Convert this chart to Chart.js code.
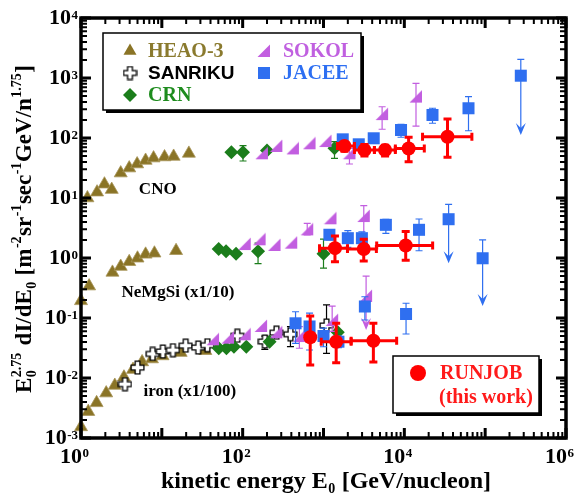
<!DOCTYPE html>
<html>
<head>
<meta charset="utf-8">
<script src="https://cdn.jsdelivr.net/npm/chart.js@4.4.1/dist/chart.umd.min.js"></script>
<style>
  html, body { margin: 0; padding: 0; background: #fff; }
</style>
</head>
<body>
<canvas id="chart" width="579" height="500"></canvas>
<script>
// ---- data (E in GeV/nucleon, flux = E^2.75 dI/dE) ----
// labelled decades on the axes
const xLabelExps = [0, 2, 4, 6];
const yLabelExps = [-3, -2, -1, 0, 1, 2, 3, 4];

// HEAO-3  [E, flux]
const heaoCNO = [[1.2, 10.0], [1.58, 12.5], [1.95, 17.0], [2.4, 13.8], [3.1, 26.0], [3.95, 31.5],
  [4.95, 36.8], [6.3, 42.2], [7.9, 46.2], [10.8, 48.2], [14.0, 49.2], [21.6, 55.3]];
const heaoNeMgSi = [[1.0, 0.193], [1.26, 0.34], [2.45, 0.575], [3.1, 0.72], [3.95, 0.865],
  [5.0, 0.99], [6.3, 1.15], [8.1, 1.2], [15.0, 1.32]];
const heaoIron = [[1.0, 0.00153], [1.23, 0.00275], [1.56, 0.00385], [2.05, 0.0056], [2.62, 0.0075],
  [3.4, 0.0103], [4.4, 0.0138], [5.7, 0.0185], [7.55, 0.0207], [10.2, 0.0233], [17.1, 0.0265], [34.5, 0.0285]];

// SANRIKU  [E, flux, low, high]
const sanrikuIron = [[3.5, 0.0079], [5.0, 0.0149], [7.7, 0.0252], [10.3, 0.0277], [13.7, 0.0291],
  [19.7, 0.0346], [28.2, 0.0322], [36.6, 0.0352], [86, 0.0505], [188, 0.0405, 0.03, 0.05],
  [262, 0.057], [390, 0.0535, 0.0333, 0.0716], [1090, 0.075, 0.0258, 0.165]];

// CRN  [E, flux, low, high]
const crnCNO = [[72.5, 57.8], [101, 57.8, 41.4, 74.5], [200, 62], [1368, 67.3, 45.9, 86.7]];
const crnNeMgSi = [[50.5, 1.41], [62.3, 1.29], [82.8, 1.18], [155, 1.29, 0.805, 1.77], [1000, 1.18, 0.678, 2.06]];
const crnIron = [[50.6, 0.0313], [63, 0.0313], [78, 0.0332], [111, 0.0332], [215, 0.0403], [1500, 0.0578]];

// SOKOL  [E, flux, low, high]
const sokolCNO = [[173, 55.6], [261, 73.6], [418, 67], [672, 81.6], [1059, 89],
  [2094, 55.6, 36.9, 67], [5310, 250, 140, 332], [13940, 490, 158, 816]];
const sokolNeMgSi = [[106, 1.71], [162, 2.05], [248, 1.65], [399, 1.8], [629, 3.0, 2.42, 3.79],
  [1220, 4.59], [3150, 5.01, 2.26, 7.44]];
const sokolIron = [[43, 0.0442], [65.9, 0.047], [106, 0.0535], [169, 0.0736], [261, 0.0578],
  [503, 0.0501, 0.0313, 0.0716], [1280, 0.0926, 0.06, 0.158]];
// upper limits  [E, flux, high, arrow down to]
const sokolLimits = [[3365, 0.233, 0.5, 0.063]];

// JACEE  [E, flux, low, high]
const jaceeCNO = [[1730, 95], [2730, 78.5], [4180, 98.9], [9100, 136, 103, 169],
  [22300, 242, 176, 313], [62200, 313, 132, 488]];
const jaceeNeMgSi = [[1183, 2.44, 2.01, 2.95], [2000, 2.14, 1.5, 2.85], [2985, 2.14, 1.36, 2.74],
  [5910, 3.57, 2.58, 4.42], [15200, 2.95, 1.32, 4.47]];
const jaceeIron = [[451, 0.0816, 0.0379, 0.127], [672, 0.0722, 0.0293, 0.121], [1000, 0.0501, 0.0332, 0.068],
  [1530, 0.0403, 0.032, 0.05], [3250, 0.1555, 0.0926, 0.226], [10500, 0.1166, 0.0541, 0.176]];
const jaceeLimits = [[276000, 1092, 2050, 112], [35300, 4.43, 7.85, 0.816], [93000, 0.99, 2.0, 0.158]];

// RUNJOB  [E, flux, low, high, Elow, Ehigh]
const runjobCNO = [[1816, 73.6, 60, 85, 1490, 2415], [3210, 63, 50, 78, 2415, 4265],
  [5780, 63, 50, 76, 4265, 7740], [11300, 66.8, 40.3, 103, 7740, 17660],
  [34200, 105, 47.7, 207, 16800, 68500]];
const runjobNeMgSi = [[1386, 1.46, 0.867, 2.33, 893, 1980], [3146, 1.41, 0.89, 2.05, 1980, 4510],
  [10400, 1.62, 0.915, 2.77, 4550, 22400]];
const runjobIron = [[685, 0.0477, 0.0165, 0.108, 640, 730], [1435, 0.0403, 0.018, 0.0816, 937, 2197],
  [4140, 0.0418, 0.0185, 0.0816, 2197, 8035]];

// group labels, placed in data space
const groupLabels = ['CNO', 'NeMgSi (x1/10)', 'iron (x1/100)'];
const groupLabelE = [8.9, 15.8, 22.2];
const groupLabelF = [13.6, 0.261, 0.00585];

const legendNames = ['HEAO-3', 'SANRIKU', 'CRN', 'SOKOL', 'JACEE'];

// ---- styles ----
const SERIF = '"Liberation Serif", "Times New Roman", serif';
const SANS = '"Liberation Sans", Arial, sans-serif';
const colors = {
  heao: '#8a7426', heaoText: '#8a7a2e',
  crn: '#1b7d1b', crnText: '#1e8c1e',
  sokol: '#c25ee0', sokolText: '#c060e0',
  jacee: '#2f6ff0', jaceeText: '#2d6ff2',
  runjob: '#ff0000'
};

// open cross marker for SANRIKU
function makeCross() {
  const c = document.createElement('canvas');
  c.width = 15; c.height = 15;
  const g = c.getContext('2d');
  const m = 7.5, a = 2.4, b = 6.4;
  g.beginPath();
  g.moveTo(m - a, m - b); g.lineTo(m + a, m - b); g.lineTo(m + a, m - a); g.lineTo(m + b, m - a);
  g.lineTo(m + b, m + a); g.lineTo(m + a, m + a); g.lineTo(m + a, m + b); g.lineTo(m - a, m + b);
  g.lineTo(m - a, m + a); g.lineTo(m - b, m + a); g.lineTo(m - b, m - a); g.lineTo(m - a, m - a);
  g.closePath();
  g.fillStyle = '#fff'; g.fill();
  g.strokeStyle = '#000'; g.lineWidth = 1.3; g.stroke();
  return c;
}

// right triangle marker for SOKOL
function makeWedge() {
  const c = document.createElement('canvas');
  c.width = 14; c.height = 14;
  const g = c.getContext('2d');
  g.beginPath();
  g.moveTo(0.5, 13); g.lineTo(13, 0.5); g.lineTo(13, 13); g.closePath();
  g.fillStyle = colors.sokol; g.fill();
  return c;
}

const crossImg = makeCross();
const wedgeImg = makeWedge();

function pts(rows) {
  return rows.map(p => ({ x: p[0], y: p[1], lo: p[2], hi: p[3], xlo: p[4], xhi: p[5] }));
}
function limits(rows) {
  return rows.map(p => ({ x: p[0], y: p[1], hi: p[2], arrow: p[3] }));
}

// ---- error bars, drawn just under each dataset's markers ----
const errorBars = {
  id: 'errorBars',
  beforeDatasetDraw(chart, args) {
    const ds = chart.data.datasets[args.index];
    if (!ds.err) return;
    const xs = chart.scales.x, ys = chart.scales.y;
    const c = chart.ctx;
    const cap = ds.err.cap;
    c.save();
    c.strokeStyle = ds.err.color;
    c.fillStyle = ds.err.color;
    c.lineWidth = ds.err.width;
    c.lineCap = 'butt';
    ds.data.forEach(p => {
      const px = xs.getPixelForValue(p.x), py = ys.getPixelForValue(p.y);
      c.beginPath();
      if (p.hi !== undefined) {
        const t = ys.getPixelForValue(p.hi);
        c.moveTo(px, py); c.lineTo(px, t);
        c.moveTo(px - cap, t); c.lineTo(px + cap, t);
      }
      if (p.lo !== undefined) {
        const b = ys.getPixelForValue(p.lo);
        c.moveTo(px, py); c.lineTo(px, b);
        c.moveTo(px - cap, b); c.lineTo(px + cap, b);
      }
      if (p.xlo !== undefined) {
        const l = xs.getPixelForValue(p.xlo), r = xs.getPixelForValue(p.xhi);
        c.moveTo(l, py); c.lineTo(r, py);
        c.moveTo(l, py - cap); c.lineTo(l, py + cap);
        c.moveTo(r, py - cap); c.lineTo(r, py + cap);
      }
      if (p.arrow !== undefined) {
        const ay = ys.getPixelForValue(p.arrow);
        c.moveTo(px, py); c.lineTo(px, ay - 4);
      }
      c.stroke();
      if (p.arrow !== undefined) {
        const ay = ys.getPixelForValue(p.arrow);
        c.beginPath();
        c.moveTo(px - 5, ay - 12); c.lineTo(px, ay); c.lineTo(px + 5, ay - 12); c.lineTo(px, ay - 7);
        c.closePath(); c.fill();
      }
    });
    c.restore();
  }
};

// rich text: [text, kind] with kind '', 'sub', 'sup', or 'ss' (sub + sup stacked)
function richDraw(c, parts, x, y, size, measureOnly) {
  let cx = x;
  const big = 'bold ' + size + 'px ' + SERIF;
  const small = 'bold ' + Math.round(size * 0.6) + 'px ' + SERIF;
  parts.forEach(p => {
    if (p[1] === '') {
      c.font = big;
      if (!measureOnly) c.fillText(p[0], cx, y);
      cx += c.measureText(p[0]).width;
    } else if (p[1] === 'sub') {
      c.font = small;
      if (!measureOnly) c.fillText(p[0], cx + 0.5, y + size * 0.22);
      cx += c.measureText(p[0]).width + 1;
    } else if (p[1] === 'sup') {
      c.font = small;
      if (!measureOnly) c.fillText(p[0], cx + 0.5, y - size * 0.42);
      cx += c.measureText(p[0]).width + 1;
    } else {
      c.font = small;
      if (!measureOnly) {
        c.fillText(p[2], cx + 0.5, y + size * 0.22);
        c.fillText(p[3], cx + 0.5, y - size * 0.45);
      }
      cx += Math.max(c.measureText(p[2]).width, c.measureText(p[3]).width) + 2;
    }
  });
  return cx - x;
}

function drawMarker(c, kind, x, y) {
  c.save();
  if (kind === 'tri') {
    c.fillStyle = colors.heao;
    c.beginPath(); c.moveTo(x, y - 7.5); c.lineTo(x + 6.5, y + 3.8); c.lineTo(x - 6.5, y + 3.8); c.closePath(); c.fill();
  } else if (kind === 'cross') {
    c.drawImage(crossImg, x - 7.5, y - 7.5);
  } else if (kind === 'diamond') {
    c.fillStyle = colors.crn;
    c.beginPath(); c.moveTo(x, y - 7); c.lineTo(x + 7, y); c.lineTo(x, y + 7); c.lineTo(x - 7, y); c.closePath(); c.fill();
  } else if (kind === 'wedge') {
    c.drawImage(wedgeImg, x - 7, y - 7);
  } else if (kind === 'square') {
    c.fillStyle = colors.jacee; c.fillRect(x - 6, y - 6, 12, 12);
  } else {
    c.fillStyle = colors.runjob;
    c.beginPath(); c.arc(x, y, 8, 0, Math.PI * 2); c.fill();
  }
  c.restore();
}

function shadowBox(c, x, y, w, h) {
  c.fillStyle = '#000';
  c.fillRect(x + 3, y + 3, w, h);
  c.fillStyle = '#fff';
  c.fillRect(x, y, w, h);
  c.strokeStyle = '#000';
  c.lineWidth = 1.5;
  c.strokeRect(x, y, w, h);
}

// ---- frame, ticks, labels, legends ----
const decorations = {
  id: 'decorations',
  afterDraw(chart) {
    const c = chart.ctx;
    const a = chart.chartArea;
    const xs = chart.scales.x, ys = chart.scales.y;
    c.save();

    // inward ticks on all four sides
    c.strokeStyle = '#000';
    for (let k = 0; k <= 6; k++) {
      for (let m = 1; m <= 9; m++) {
        if (k === 6 && m > 1) break;
        const v = m * Math.pow(10, k);
        const px = xs.getPixelForValue(v);
        const len = m === 1 ? 10 : 6;
        c.lineWidth = m === 1 ? 3 : 2;
        c.beginPath();
        c.moveTo(px, a.bottom); c.lineTo(px, a.bottom - len);
        c.moveTo(px, a.top); c.lineTo(px, a.top + len);
        c.stroke();
      }
    }
    for (let k = -3; k <= 4; k++) {
      for (let m = 1; m <= 9; m++) {
        if (k === 4 && m > 1) break;
        const v = m * Math.pow(10, k);
        const py = ys.getPixelForValue(v);
        const len = m === 1 ? 10 : 6;
        c.lineWidth = m === 1 ? 3 : 2;
        c.beginPath();
        c.moveTo(a.left, py); c.lineTo(a.left + len, py);
        c.moveTo(a.right, py); c.lineTo(a.right - len, py);
        c.stroke();
      }
    }
    c.lineWidth = 3.5;
    c.strokeRect(a.left, a.top, a.right - a.left, a.bottom - a.top);

    // tick labels 10^n
    c.fillStyle = '#000';
    c.textBaseline = 'alphabetic';
    const bigF = 'bold 22px ' + SERIF, smallF = 'bold 13px ' + SERIF;
    yLabelExps.forEach(e => {
      const py = ys.getPixelForValue(Math.pow(10, e));
      const ex = String(e);
      c.font = smallF;
      const ew = c.measureText(ex).width;
      c.textAlign = 'left';
      c.fillText(ex, 78 - ew, py + 1);
      c.font = bigF;
      c.textAlign = 'right';
      c.fillText('10', 78 - ew - 0.5, py + 6);
    });
    xLabelExps.forEach(e => {
      const px = xs.getPixelForValue(Math.pow(10, e));
      c.font = bigF;
      c.textAlign = 'right';
      c.fillText('10', px + 1, 463);
      c.font = smallF;
      c.textAlign = 'left';
      c.fillText(String(e), px + 1.5, 457);
    });

    // axis titles
    c.textAlign = 'left';
    const xTitle = [['kinetic energy E', ''], ['0', 'sub'], [' [GeV/nucleon]', '']];
    const xw = richDraw(c, xTitle, 0, 0, 24, true);
    richDraw(c, xTitle, 326 - xw / 2, 488, 24, false);

    const yTitle = [['E', ''], ['', 'ss', '0', '2.75'], [' dI/dE', ''], ['0', 'sub'], [' [m', ''], ['-2', 'sup'],
      ['sr', ''], ['-1', 'sup'], ['sec', ''], ['-1', 'sup'], ['GeV/n', ''], ['1.75', 'sup'], [']', '']];
    const yw = richDraw(c, yTitle, 0, 0, 23, true);
    c.save();
    c.translate(31, 229);
    c.rotate(-Math.PI / 2);
    richDraw(c, yTitle, -yw / 2, 0, 23, false);
    c.restore();

    // group labels
    c.font = 'bold 17px ' + SERIF;
    c.textAlign = 'center';
    c.textBaseline = 'middle';
    c.fillStyle = '#000';
    groupLabels.forEach((t, i) => {
      c.fillText(t, xs.getPixelForValue(groupLabelE[i]), ys.getPixelForValue(groupLabelF[i]));
    });

    // experiments legend
    shadowBox(c, 103, 33, 258, 77);
    c.textAlign = 'left';
    c.textBaseline = 'middle';
    const entries = [
      [legendNames[0], 'tri', colors.heaoText, 130, 148, 51, SERIF],
      [legendNames[1], 'cross', '#000', 130, 148, 73, SANS],
      [legendNames[2], 'diamond', colors.crnText, 130, 148, 95, SERIF],
      [legendNames[3], 'wedge', colors.sokolText, 264, 283, 51, SERIF],
      [legendNames[4], 'square', colors.jaceeText, 264, 283, 73, SERIF]
    ];
    entries.forEach(en => {
      drawMarker(c, en[1], en[3], en[5]);
      c.font = (en[6] === SANS ? 'bold 19px ' : 'bold 20px ') + en[6];
      c.fillStyle = en[2];
      c.fillText(en[0], en[4], en[5] + 1);
    });

    // RUNJOB legend
    shadowBox(c, 393, 356, 146, 57);
    drawMarker(c, 'circle', 418, 373);
    c.font = 'bold 20px ' + SERIF;
    c.fillStyle = '#ff1a1a';
    c.fillText('RUNJOB', 440, 374);
    c.fillText('(this work)', 439, 398);

    c.restore();
  }
};

const ctx = document.getElementById('chart').getContext('2d');
new Chart(ctx, {
  type: 'scatter',
  data: {
    datasets: [
      {
        label: 'RUNJOB (this work)',
        data: pts([...runjobCNO, ...runjobNeMgSi, ...runjobIron]),
        pointStyle: 'circle', pointRadius: 7, backgroundColor: colors.runjob, borderWidth: 0,
        err: { color: colors.runjob, width: 3, cap: 4 }, clip: false
      },
      {
        label: 'JACEE',
        data: [...pts([...jaceeCNO, ...jaceeNeMgSi, ...jaceeIron]), ...limits(jaceeLimits)],
        pointStyle: 'rect', pointRadius: 8.5, backgroundColor: colors.jacee, borderWidth: 0,
        err: { color: colors.jacee, width: 1.2, cap: 3.5 }, clip: false
      },
      {
        label: 'SOKOL',
        data: [...pts([...sokolCNO, ...sokolNeMgSi, ...sokolIron]), ...limits(sokolLimits)],
        pointStyle: wedgeImg, pointRadius: 7,
        err: { color: colors.sokol, width: 1.2, cap: 3.5 }, clip: false
      },
      {
        label: 'CRN',
        data: pts([...crnCNO, ...crnNeMgSi, ...crnIron]),
        pointStyle: 'rectRot', pointRadius: 7, backgroundColor: colors.crn, borderWidth: 0,
        err: { color: colors.crn, width: 1.2, cap: 3.5 }, clip: false
      },
      {
        label: 'SANRIKU',
        data: pts(sanrikuIron),
        pointStyle: crossImg, pointRadius: 7,
        err: { color: '#000', width: 1.2, cap: 3.5 }, clip: false
      },
      {
        label: 'HEAO-3',
        data: pts([...heaoCNO, ...heaoNeMgSi, ...heaoIron]),
        pointStyle: 'triangle', pointRadius: 7.5, backgroundColor: colors.heao,
        borderColor: '#a8955a', borderWidth: 0.8, clip: false
      }
    ]
  },
  options: {
    responsive: false,
    animation: false,
    devicePixelRatio: 1,
    layout: { padding: { left: 81, right: 13, top: 18, bottom: 62 } },
    plugins: { legend: { display: false }, tooltip: { enabled: false } },
    scales: {
      x: { type: 'logarithmic', min: 1, max: 1e6, display: false },
      y: { type: 'logarithmic', min: 1e-3, max: 1e4, display: false }
    }
  },
  plugins: [errorBars, decorations]
});
</script>
</body>
</html>
